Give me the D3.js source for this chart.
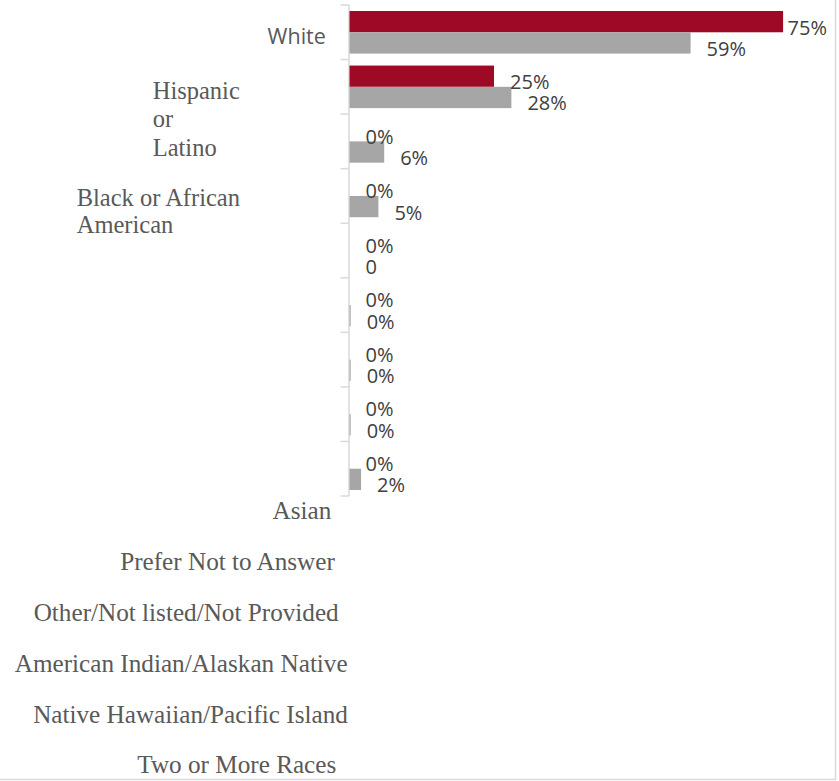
<!DOCTYPE html>
<html>
<head>
<meta charset="utf-8">
<script src="https://cdn.jsdelivr.net/npm/d3@7"></script>
<style>
  html, body { margin: 0; padding: 0; background: #fff; }
  svg { display: block; }
</style>
</head>
<body>
<svg id="chart" width="839" height="781"></svg>
<script>
// Respondents by race / ethnicity, two groups compared (percent)
const categories = [
  "White",
  "Hispanic or Latino",
  "Black or African American",
  "Asian",
  "Prefer Not to Answer",
  "Other/Not listed/Not Provided",
  "American Indian/Alaskan Native",
  "Native Hawaiian/Pacific Island",
  "Two or More Races"
];
const seriesKeys = ["groupA", "groupB"];
const groupAValues = [75, 25, 0, 0, 0, 0, 0, 0, 0];
const groupBValues = [59, 28, 6, 5, 0, 0.2, 0.2, 0.2, 2];
// number format per label: "pct" shows a percent sign, "num" a bare number
const groupAFormats = ["pct", "pct", "pct", "pct", "pct", "pct", "pct", "pct", "pct"];
const groupBFormats = ["pct", "pct", "pct", "pct", "num", "pct", "pct", "pct", "pct"];

const colors = { groupA: "#9e0a26", groupB: "#a6a6a6" };

const svg = d3.select("#chart");

// chart-area border (only right and bottom edges fall inside the page)
svg.append("rect")
  .attr("x", -2).attr("y", -2)
  .attr("width", 837.5).attr("height", 781.5)
  .attr("fill", "none").attr("stroke", "#d9d9d9").attr("stroke-width", 1.5);

const x = d3.scaleLinear().domain([0, 80]).range([349.5, 812]);
const y = d3.scaleBand().domain(categories).range([5, 496])
  .paddingInner(0.22).paddingOuter(0.11);
const ySub = d3.scaleBand().domain(seriesKeys).range([0, y.bandwidth()]);

const rows = categories.map((c, i) => ({
  category: c,
  values: [
    { key: "groupA", value: groupAValues[i], fmt: groupAFormats[i] },
    { key: "groupB", value: groupBValues[i], fmt: groupBFormats[i] }
  ]
}));

// category axis: line plus ticks at band boundaries
const axisG = svg.append("g").attr("stroke", "#d9d9d9").attr("stroke-width", 1.5);
axisG.append("line")
  .attr("x1", x(0) - 0.5).attr("x2", x(0) - 0.5)
  .attr("y1", y.range()[0]).attr("y2", y.range()[1]);
const edges = [y.range()[0]]
  .concat(categories.slice(1).map(c => y(c) - y.step() * y.paddingInner() / 2))
  .concat([y.range()[1]]);
axisG.selectAll("line.tick").data(edges).join("line")
  .attr("class", "tick")
  .attr("x1", x(0) - 9).attr("x2", x(0) - 0.5)
  .attr("y1", d => d).attr("y2", d => d);

// bars
const rowG = svg.selectAll("g.row").data(rows).join("g")
  .attr("class", "row")
  .attr("transform", d => `translate(0,${y(d.category)})`);

rowG.selectAll("rect").data(d => d.values).join("rect")
  .attr("x", x(0))
  .attr("y", d => ySub(d.key))
  .attr("width", d => x(d.value) - x(0))
  .attr("height", ySub.bandwidth())
  .attr("fill", d => colors[d.key]);

// value labels, kept inside the chart area on the right
const fmtPct = v => Math.round(v) + "%";
const fmtNum = v => String(Math.round(v));
const rightLimit = 827;
rowG.selectAll("text.value").data(d => d.values).join("text")
  .attr("class", "value")
  .attr("font-family", "'Open Sans', sans-serif")
  .attr("font-size", 20)
  .attr("fill", "#404040")
  .attr("y", d => ySub(d.key) + ySub.bandwidth() + 2.3)
  .text(d => d.fmt === "pct" ? fmtPct(d.value) : fmtNum(d.value))
  .attr("x", function (d) {
    const w = this.getComputedTextLength();
    return Math.min(x(d.value) + 16, rightLimit - w);
  });

// category labels
const sansFont = "'Open Sans', sans-serif";
const serifFont = "'Liberation Serif', serif";
const labelLayout = [
  { lines: ["White"], x: 296.7, anchor: "middle", y: 44, font: sansFont, size: 21.5, lh: 0 },
  { lines: ["Hispanic", "or", "Latino"], x: 152.7, anchor: "start", y: 99, font: serifFont, size: 24.5, lh: 28.3 },
  { lines: ["Black or African", "American"], x: 76.7, anchor: "start", y: 205.7, font: serifFont, size: 24.5, lh: 27.6 },
  { lines: ["Asian"], x: 302, anchor: "middle", y: 519.3, font: serifFont, size: 25.2, lh: 0 },
  { lines: ["Prefer Not to Answer"], x: 227.5, anchor: "middle", y: 570, font: serifFont, size: 25.2, lh: 0 },
  { lines: ["Other/Not listed/Not Provided"], x: 186.2, anchor: "middle", y: 620.7, font: serifFont, size: 25.2, lh: 0 },
  { lines: ["American Indian/Alaskan Native"], x: 181.2, anchor: "middle", y: 672.3, font: serifFont, size: 25.2, lh: 0 },
  { lines: ["Native Hawaiian/Pacific Island"], x: 190.5, anchor: "middle", y: 722.7, font: serifFont, size: 25.2, lh: 0 },
  { lines: ["Two or More Races"], x: 236.8, anchor: "middle", y: 773.3, font: serifFont, size: 25.2, lh: 0 }
];

const catG = svg.append("g");
catG.selectAll("text").data(labelLayout).join("text")
  .attr("x", d => d.x)
  .attr("y", d => d.y)
  .attr("text-anchor", d => d.anchor)
  .attr("font-family", d => d.font)
  .attr("font-size", d => d.size)
  .attr("fill", "#595959")
  .each(function (d) {
    d3.select(this).selectAll("tspan").data(d.lines).join("tspan")
      .attr("x", d.x)
      .attr("dy", (l, i) => i === 0 ? 0 : d.lh)
      .text(l => l);
  });
</script>
</body>
</html>
